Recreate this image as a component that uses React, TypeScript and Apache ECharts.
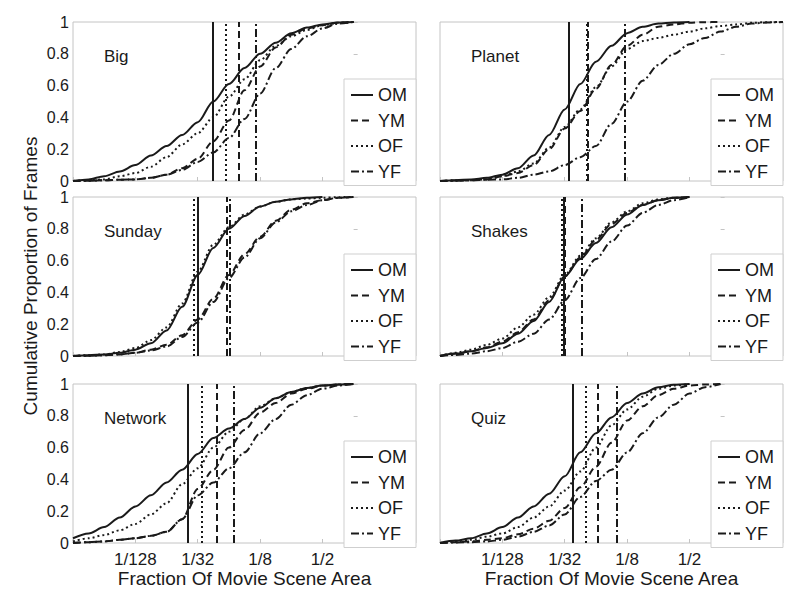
import React, { useEffect, useRef } from 'react';
import * as echarts from 'echarts';

// x positions: log2 of the fraction of movie scene area (e.g. -5 = 1/32)
const LOG2_AREA = [-9, -8.5, -8, -7.5, -7, -6.5, -6, -5.5, -5, -4.5, -4, -3.5, -3, -2.5, -2, -1.5, -1, -0.5, 0, 0.5, 1, 1.5, 2];
const GROUPS = ['OM', 'YM', 'OF', 'YF'];
const PANELS = ['Big', 'Planet', 'Sunday', 'Shakes', 'Network', 'Quiz'];
const X_TICKS = [-9, -7, -5, -3, -1, 1];
const X_LABELS = [-7, -5, -3, -1];

// cumulative proportions along LOG2_AREA (curve ends where its list ends)
const BIG_OM = [0, 0.01, 0.03, 0.06, 0.1, 0.16, 0.22, 0.29, 0.37, 0.5, 0.61, 0.71, 0.8, 0.87, 0.93, 0.965, 0.985, 0.997, 1.0];
const BIG_YM = [0, 0.002, 0.005, 0.008, 0.01, 0.02, 0.04, 0.08, 0.14, 0.25, 0.38, 0.57, 0.72, 0.84, 0.92, 0.96, 0.98, 0.995, 1.0];
const BIG_OF = [0, 0.005, 0.01, 0.03, 0.05, 0.09, 0.15, 0.23, 0.3, 0.4, 0.53, 0.64, 0.76, 0.85, 0.91, 0.95, 0.98, 0.995, 1.0];
const BIG_YF = [0, 0.002, 0.005, 0.008, 0.01, 0.02, 0.04, 0.07, 0.12, 0.18, 0.27, 0.39, 0.55, 0.71, 0.83, 0.91, 0.96, 0.99, 1.0];
const BIG_MEDIANS = [-4.52, -3.7, -4.1, -3.15];

const PLANET_OM = [0, 0.005, 0.01, 0.02, 0.04, 0.08, 0.16, 0.29, 0.45, 0.61, 0.75, 0.85, 0.93, 0.97, 0.99, 0.997, 1.0];
const PLANET_YM = [0, 0.003, 0.005, 0.01, 0.03, 0.05, 0.1, 0.2, 0.33, 0.44, 0.58, 0.73, 0.85, 0.92, 0.97, 0.985, 0.995, 0.999, 1.0];
const PLANET_OF = [0, 0.003, 0.005, 0.01, 0.03, 0.06, 0.11, 0.21, 0.34, 0.45, 0.59, 0.72, 0.83, 0.88, 0.9, 0.92, 0.94, 0.96, 0.975, 0.985, 0.995, 0.999, 1.0];
const PLANET_YF = [0, 0.002, 0.005, 0.008, 0.01, 0.02, 0.04, 0.06, 0.1, 0.15, 0.22, 0.36, 0.5, 0.63, 0.73, 0.8, 0.86, 0.9, 0.94, 0.97, 0.99, 0.997, 1.0];
const PLANET_MEDIANS = [-4.88, -4.25, -4.29, -3.06];

const SUNDAY_OM = [0, 0.005, 0.01, 0.02, 0.04, 0.08, 0.16, 0.31, 0.51, 0.68, 0.8, 0.88, 0.94, 0.97, 0.985, 0.995, 1.0];
const SUNDAY_YM = [0, 0.002, 0.005, 0.01, 0.02, 0.04, 0.07, 0.13, 0.23, 0.36, 0.51, 0.64, 0.75, 0.85, 0.92, 0.96, 0.98, 0.995, 1.0];
const SUNDAY_OF = [0, 0.005, 0.01, 0.025, 0.05, 0.1, 0.18, 0.33, 0.53, 0.7, 0.81, 0.89, 0.94, 0.97, 0.985, 0.99, 0.995, 0.999, 1.0];
const SUNDAY_YF = [0, 0.002, 0.005, 0.01, 0.02, 0.035, 0.06, 0.12, 0.21, 0.34, 0.49, 0.62, 0.74, 0.84, 0.91, 0.95, 0.98, 0.995, 1.0];
const SUNDAY_MEDIANS = [-5.0, -4.07, -5.12, -3.97];

const SHAKES_OM = [0, 0.015, 0.03, 0.05, 0.08, 0.14, 0.22, 0.34, 0.5, 0.61, 0.71, 0.81, 0.89, 0.95, 0.98, 0.995, 1.0];
const SHAKES_YM = [0, 0.015, 0.03, 0.055, 0.09, 0.15, 0.23, 0.35, 0.5, 0.62, 0.73, 0.83, 0.9, 0.95, 0.98, 0.995, 1.0];
const SHAKES_OF = [0, 0.02, 0.04, 0.07, 0.11, 0.18, 0.26, 0.37, 0.51, 0.63, 0.74, 0.84, 0.91, 0.96, 0.985, 0.995, 1.0];
const SHAKES_YF = [0, 0.007, 0.015, 0.03, 0.05, 0.09, 0.14, 0.23, 0.35, 0.49, 0.61, 0.72, 0.82, 0.9, 0.95, 0.98, 1.0];
const SHAKES_MEDIANS = [-5.03, -5.0, -5.08, -4.46];

const NETWORK_OM = [0.03, 0.06, 0.1, 0.16, 0.23, 0.3, 0.38, 0.46, 0.56, 0.66, 0.72, 0.78, 0.85, 0.91, 0.95, 0.975, 0.99, 0.997, 1.0];
const NETWORK_YM = [0, 0.005, 0.01, 0.02, 0.03, 0.045, 0.07, 0.15, 0.34, 0.46, 0.6, 0.71, 0.82, 0.88, 0.94, 0.97, 0.99, 0.997, 1.0];
const NETWORK_OF = [0.01, 0.03, 0.05, 0.08, 0.12, 0.18, 0.25, 0.37, 0.47, 0.6, 0.7, 0.78, 0.86, 0.91, 0.95, 0.975, 0.99, 0.997, 1.0];
const NETWORK_YF = [0, 0.005, 0.01, 0.02, 0.03, 0.045, 0.07, 0.15, 0.3, 0.38, 0.47, 0.57, 0.69, 0.78, 0.87, 0.93, 0.97, 0.99, 1.0];
const NETWORK_MEDIANS = [-5.33, -4.38, -4.88, -3.84];

const QUIZ_OM = [0, 0.015, 0.03, 0.06, 0.1, 0.16, 0.23, 0.31, 0.42, 0.57, 0.69, 0.79, 0.88, 0.94, 0.98, 0.995, 1.0];
const QUIZ_YM = [0, 0.005, 0.01, 0.02, 0.03, 0.055, 0.09, 0.14, 0.22, 0.35, 0.48, 0.63, 0.77, 0.86, 0.93, 0.97, 0.99, 0.997, 1.0];
const QUIZ_OF = [0, 0.01, 0.02, 0.04, 0.06, 0.1, 0.16, 0.23, 0.33, 0.45, 0.6, 0.74, 0.84, 0.92, 0.97, 0.99, 1.0];
const QUIZ_YF = [0, 0.003, 0.005, 0.01, 0.02, 0.04, 0.07, 0.11, 0.18, 0.29, 0.39, 0.46, 0.57, 0.69, 0.79, 0.87, 0.94, 0.98, 1.0];
const QUIZ_MEDIANS = [-4.75, -3.93, -4.32, -3.33];

const PANEL_CURVES = [
  [BIG_OM, BIG_YM, BIG_OF, BIG_YF],
  [PLANET_OM, PLANET_YM, PLANET_OF, PLANET_YF],
  [SUNDAY_OM, SUNDAY_YM, SUNDAY_OF, SUNDAY_YF],
  [SHAKES_OM, SHAKES_YM, SHAKES_OF, SHAKES_YF],
  [NETWORK_OM, NETWORK_YM, NETWORK_OF, NETWORK_YF],
  [QUIZ_OM, QUIZ_YM, QUIZ_OF, QUIZ_YF],
];
const PANEL_MEDIANS = [BIG_MEDIANS, PLANET_MEDIANS, SUNDAY_MEDIANS, SHAKES_MEDIANS, NETWORK_MEDIANS, QUIZ_MEDIANS];

const FONT = 'Liberation Sans, Arial, Helvetica, sans-serif';
const INK = '#1a1a1a';
const COLS = [73, 440];
const ROWS = [22, 197, 384];
const PW = 343;
const PH = 159;
const LINE_TYPES: any[] = ['solid', [7, 4], [2, 3], [8, 3, 2, 3]];

function buildOption() {
  const grid: any[] = [];
  const xAxis: any[] = [];
  const yAxis: any[] = [];
  const series: any[] = [];
  const legend: any[] = [];
  const title: any[] = [];

  PANELS.forEach((name, i) => {
    const col = i % 2;
    const row = Math.floor(i / 2);
    const left = COLS[col];
    const top = ROWS[row];
    grid.push({
      left, top, width: PW, height: PH, show: true,
      borderColor: '#c4c4c4', borderWidth: 1, backgroundColor: 'transparent',
    });
    xAxis.push({
      type: 'value', gridIndex: i, min: -9, max: 2,
      axisLine: { show: false },
      splitLine: { show: false },
      axisTick: { show: true, inside: true, length: 4, customValues: X_TICKS, lineStyle: { color: '#c4c4c4' } },
      axisLabel: {
        show: row === 2, customValues: X_LABELS, margin: 8,
        fontSize: 17, color: INK, fontFamily: FONT,
        formatter: (v: number) => '1/' + Math.round(Math.pow(2, -v)),
      },
      name: row === 2 ? 'Fraction Of Movie Scene Area' : '',
      nameLocation: 'middle', nameGap: 26,
      nameTextStyle: { fontSize: 19, color: INK, fontFamily: FONT },
    });
    yAxis.push({
      type: 'value', gridIndex: i, min: 0, max: 1, interval: 0.2,
      axisLine: { show: false },
      splitLine: { show: false },
      axisTick: { show: true, inside: true, length: 4, lineStyle: { color: '#c4c4c4' } },
      axisLabel: { show: col === 0, margin: 4, fontSize: 16, color: INK, fontFamily: FONT },
    });
    GROUPS.forEach((g, k) => {
      const vals = PANEL_CURVES[i][k];
      const data: number[][] = vals.map((v, j) => [LOG2_AREA[j], v]);
      series.push({
        type: 'line', name: g, xAxisIndex: i, yAxisIndex: i,
        data, symbol: 'none', showSymbol: false,
        smooth: 0.3, smoothMonotone: 'x',
        lineStyle: { color: INK, width: 2, type: LINE_TYPES[k] },
        itemStyle: { color: INK },
        emphasis: { disabled: true },
        markLine: {
          silent: true, symbol: ['none', 'none'],
          label: { show: false },
          emphasis: { disabled: true },
          lineStyle: { color: INK, width: 2, type: LINE_TYPES[k] },
          data: [{ xAxis: PANEL_MEDIANS[i][k] }],
        },
      });
    });
    legend.push({
      orient: 'vertical',
      right: 800 - (COLS[col] + PW),
      top: top + 57,
      data: GROUPS,
      selectedMode: false,
      itemWidth: 22, itemHeight: 14, itemGap: 7.5,
      padding: [7, 9, 5, 6],
      backgroundColor: '#fff', borderColor: '#cfcfcf', borderWidth: 1,
      itemStyle: { color: 'rgba(0,0,0,0)', borderColor: 'rgba(0,0,0,0)', borderWidth: 0, opacity: 0 },
      lineStyle: { color: INK, width: 2 },
      textStyle: { fontSize: 18, lineHeight: 16, color: INK, fontFamily: FONT },
    });
    title.push({
      text: name, left: left + 31, top: top + 26, padding: 0,
      textStyle: { fontSize: 17, fontWeight: 'normal', color: INK, fontFamily: FONT },
    });
  });

  return {
    animation: false,
    backgroundColor: '#fff',
    grid, xAxis, yAxis, series, legend, title,
    graphic: [{
      type: 'text', x: 30, y: 276, rotation: Math.PI / 2,
      style: {
        text: 'Cumulative Proportion of Frames', fontSize: 19, fill: INK, fontFamily: FONT,
        textAlign: 'center', textVerticalAlign: 'middle', align: 'center', verticalAlign: 'middle',
      },
    }],
  };
}

export default function App() {
  const ref = useRef<HTMLDivElement>(null);
  useEffect(() => {
    if (!ref.current) return;
    const chart = echarts.init(ref.current, null, { renderer: 'svg' });
    chart.setOption(buildOption() as any);
    return () => chart.dispose();
  }, []);
  return (
    <div
      ref={ref}
      style={{ position: 'fixed', left: 0, top: 0, width: 800, height: 603, background: '#fff' }}
    />
  );
}
